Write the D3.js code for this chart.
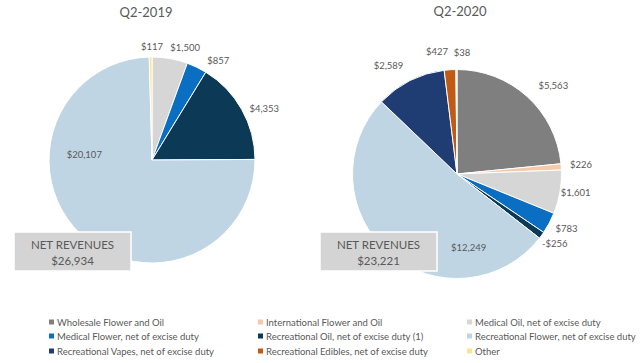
<!DOCTYPE html>
<html><head><meta charset="utf-8">
<script src="https://cdn.jsdelivr.net/npm/d3@7"></script>
<style>body{margin:0;background:#fff;}svg{display:block;font-family:Lato,"Open Sans",sans-serif;}</style>
</head><body><svg id="c" width="644" height="363"></svg>
<script>
const categories = ["Wholesale Flower and Oil","International Flower and Oil","Medical Oil, net of excise duty",
  "Medical Flower, net of excise duty","Recreational Oil, net of excise duty (1)","Recreational Flower, net of excise duty",
  "Recreational Vapes, net of excise duty","Recreational Edibles, net of excise duty","Other"];
const values2019 = [0, 0, 1500, 857, 4353, 20107, 0, 0, 117];
const values2020 = [5563, 226, 1601, 783, -256, 12249, 2589, 427, 38];
const titles = ["Q2-2019","Q2-2020"];
const totals = [26934, 23221];
const colors = ["#7f7f7f","#f6c9a9","#d6d6d6","#0a6fc2","#0b3956","#bfd5e3","#1f3d73","#c05a14","#ffe48f"];
// label placement (angle in degrees, distance as fraction of radius), layout only
const labelPos2019 = [null,null,[16.4,1.14],[33.7,1.16],[65.3,1.2],[275,0.66],null,null,[0,1.1]];
const labelPos2020 = [[47.5,1.25],[85.8,1.19],[99,1.15],[116.4,1.17],[125.5,1.15],[171,0.71],[327.8,1.23],[350.7,1.19],[2.4,1.16]];

const svg = d3.select("#c");
const fmt = v => (v < 0 ? "-$" : "$") + d3.format(",")(Math.abs(v));
const color = d3.scaleOrdinal().domain(categories).range(colors);

const pies = [
  {vals: values2019, labels: labelPos2019, cx: 152, cy: 160, r: 103, tx: 146, ty: 17, box: [14, 232, 117, 39]},
  {vals: values2020, labels: labelPos2020, cx: 457, cy: 174, r: 104.5, tx: 460, ty: 16, box: [320, 232, 117, 39]}
];

pies.forEach((p, pi) => {
  const data = categories.map((c, i) => ({cat: c, v: p.vals[i], i}));
  const arcs = d3.pie().sort(null).value(d => Math.abs(d.v))(data);
  const arc = d3.arc().innerRadius(0).outerRadius(p.r);
  const g = svg.append("g").attr("transform", `translate(${p.cx},${p.cy})`);
  g.selectAll("path").data(arcs.filter(a => a.data.v !== 0)).join("path")
    .attr("d", arc).attr("fill", a => color(a.data.cat))
    .attr("stroke", "#fff").attr("stroke-width", 1);
  g.selectAll("text").data(arcs.filter(a => a.data.v !== 0)).join("text")
    .attr("x", a => { const lp = p.labels[a.data.i]; return lp[1]*p.r*Math.sin(lp[0]*Math.PI/180); })
    .attr("y", a => { const lp = p.labels[a.data.i]; return -lp[1]*p.r*Math.cos(lp[0]*Math.PI/180); })
    .attr("text-anchor", "middle").attr("dominant-baseline", "central")
    .attr("font-size", 9.5).attr("fill", "#595959").text(a => fmt(a.data.v));
  svg.append("text").attr("x", p.tx).attr("y", p.ty).attr("text-anchor", "middle")
    .attr("font-size", 13).attr("fill", "#595959").text(titles[pi]);
  const [bx, by, bw, bh] = p.box;
  svg.append("rect").attr("x", bx).attr("y", by).attr("width", bw).attr("height", bh)
    .attr("fill", "#d4d4d4").attr("stroke", "#fff").attr("stroke-width", 1.5);
  svg.append("text").attr("x", bx + bw/2).attr("y", by + 12).attr("text-anchor", "middle")
    .attr("dominant-baseline", "central").attr("font-size", 11.5).attr("fill", "#595959").text("NET REVENUES");
  svg.append("text").attr("x", bx + bw/2).attr("y", by + 28).attr("text-anchor", "middle")
    .attr("dominant-baseline", "central").attr("font-size", 11.5).attr("fill", "#595959").text("$" + d3.format(",")(totals[pi]));
});

// legend
const colX = [49, 258, 467];
const rowY = [322, 336, 351];
const lg = svg.append("g");
categories.forEach((c, i) => {
  const x = colX[i % 3], y = rowY[Math.floor(i / 3)];
  lg.append("rect").attr("x", x).attr("y", y - 2.5).attr("width", 5).attr("height", 5).attr("fill", color(c));
  lg.append("text").attr("x", x + 8).attr("y", y).attr("dominant-baseline", "central")
    .attr("font-size", 9.5).attr("fill", "#595959").text(c);
});
</script></body></html>
